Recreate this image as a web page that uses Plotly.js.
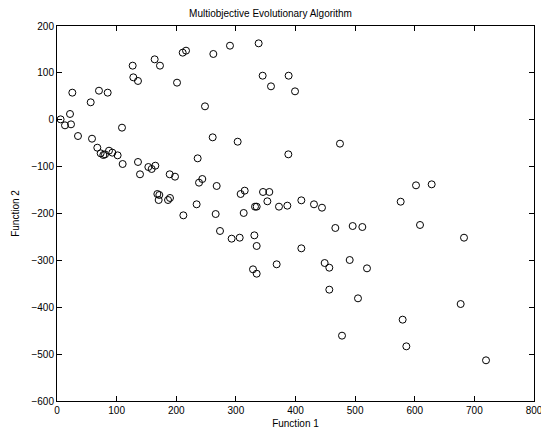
<!DOCTYPE html>
<html><head><meta charset="utf-8">
<script src="https://cdn.plot.ly/plotly-3.0.1.min.js"></script>
<style>html,body{margin:0;padding:0;background:#fff}#chart{width:541px;height:436px}</style>
</head><body><div id="chart"></div>
<script>
const f1 = [6,13.4,23.5,21.8,25.7,35.2,56.5,58.7,70.4,85,109,67.6,73.2,77.7,80.5,87.2,92.8,101.7,110.1,126.9,128,135.8,135.8,139.2,153.2,158.8,164.9,163.8,172.7,189,197.9,201.3,168.3,171.6,170.5,186.2,189.5,210.8,216.4,262.2,248.2,261.1,235.9,238.2,243.7,267.8,234.2,211.9,266.1,290.1,338.2,344.9,388.5,358.9,399.2,303,474.6,388,308,314.8,345.5,356.1,352.8,332.1,334.9,372.3,386.3,409.8,431,444.4,313.1,273.4,292.9,306.4,331,334.9,328.7,334.9,368.4,409.8,466.8,495.9,512.1,490.9,448.9,456.7,456.7,519.9,504.8,478,576.4,608.8,682.6,677,579.7,585.9,719.5,602.1,628.4];
const f2 = [0.9,-11.9,-9.8,12.3,57.8,-34.7,37.2,-40.4,62,57.8,-16.9,-59.6,-71.6,-75.2,-73.8,-66,-70.2,-75.9,-94.4,115.4,90.5,82.7,-90.1,-116.4,-100.8,-105,-98,128.9,115.4,-116.4,-121.4,79.1,-158.4,-160.5,-171.2,-171.2,-166.9,143.1,147.4,140.3,28.6,-37.5,-82.3,-134.2,-126.4,-141.3,-180.4,-203.9,-201.1,158,163,94,94,71.3,60.6,-46.8,-51,-73.8,-158.4,-151.3,-154.1,-154.1,-174,-185.4,-185.4,-185.4,-183.3,-171.9,-180.4,-187.6,-198.9,-237.3,-253.7,-251.6,-246.6,-269.3,-319.1,-328.4,-308.4,-274.3,-230.9,-226.7,-228.8,-299.2,-305.6,-315.6,-362.5,-317,-381,-460.6,-174.8,-224.5,-251.6,-393.1,-426.5,-483.4,-513.2,-139.9,-137.8];
const xTicks = [0,100,200,300,400,500,600,700,800];
const yTicks = [-600,-500,-400,-300,-200,-100,0,100,200];
const titleText = 'Multiobjective Evolutionary Algorithm';
const xLabel = 'Function 1';
const yLabel = 'Function 2';

const font = {family: 'Liberation Sans, Arial, sans-serif', size: 10, color: '#000'};
const axisCommon = {
  showgrid: false, zeroline: false, showline: true, linecolor: '#000', linewidth: 1,
  mirror: 'ticks', ticks: 'inside', ticklen: 5, tickcolor: '#000', tickwidth: 1,
  tickfont: font, ticklabeloverflow: 'allow'
};
Plotly.newPlot('chart', [{
  x: f1, y: f2, type: 'scatter', mode: 'markers', cliponaxis: false,
  marker: {symbol: 'circle-open', size: 7, color: '#000', line: {width: 1, color: '#000'}}
}], {
  width: 541, height: 436,
  margin: {l: 57, r: 7, t: 26, b: 35},
  paper_bgcolor: '#fff', plot_bgcolor: '#fff',
  showlegend: false,
  font: font,
  title: {text: titleText, font: {family: font.family, size: 10, color: '#000'}, x: 0.5, xanchor: 'center', y: 0.968, yanchor: 'middle'},
  xaxis: Object.assign({}, axisCommon, {range: [0, 800], tickvals: xTicks, title: {text: xLabel, font: font, standoff: 4}}),
  yaxis: Object.assign({}, axisCommon, {range: [-600, 200], tickvals: yTicks, title: {text: yLabel, font: font, standoff: 9}})
}, {displayModeBar: false, staticPlot: true});
</script></body></html>
